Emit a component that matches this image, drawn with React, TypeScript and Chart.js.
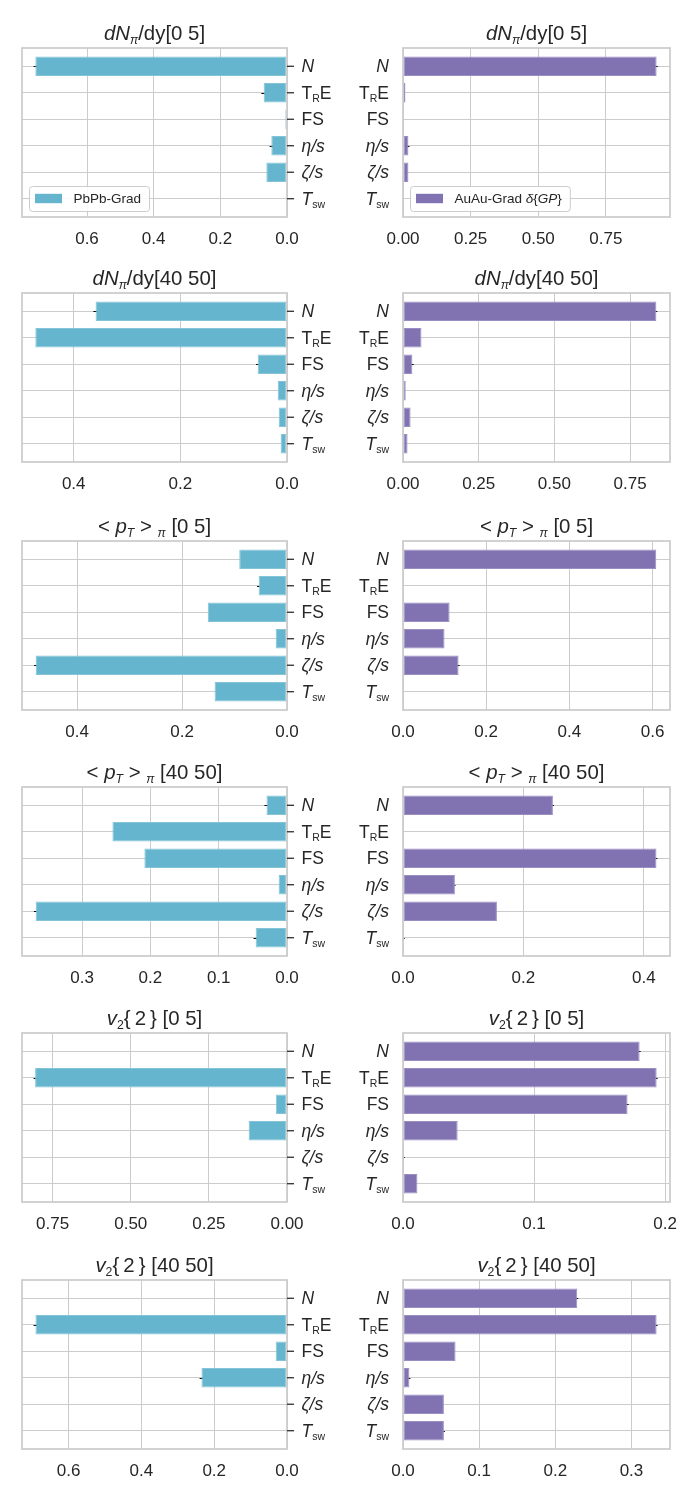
import { useEffect, useRef } from "react";
import { Chart, registerables, type Plugin } from "chart.js";

Chart.register(...registerables);

type Seg = { t: string; i?: boolean; sub?: boolean };

const FONT = '"Liberation Sans", Arial, sans-serif';
const TEXT = "#262626";
const GRID = "#cccccc";
const SUB = 0.6;

// model parameters, top to bottom
const PARAM_LABELS: Seg[][] = [
  [{ t: "N", i: true }],
  [{ t: "T" }, { t: "R", sub: true }, { t: "E" }],
  [{ t: "FS" }],
  [{ t: "η/s", i: true }],
  [{ t: "ζ/s", i: true }],
  [{ t: "T", i: true }, { t: "sw", sub: true }],
];

const TITLES: Seg[][] = [
  [{ t: "dN", i: true }, { t: "π", i: true, sub: true }, { t: "/dy[0 5]" }],
  [{ t: "dN", i: true }, { t: "π", i: true, sub: true }, { t: "/dy[40 50]" }],
  [{ t: "< " }, { t: "p", i: true }, { t: "T", i: true, sub: true }, { t: " > " }, { t: "π", i: true, sub: true }, { t: " [0 5]" }],
  [{ t: "< " }, { t: "p", i: true }, { t: "T", i: true, sub: true }, { t: " > " }, { t: "π", i: true, sub: true }, { t: " [40 50]" }],
  [{ t: "v", i: true }, { t: "2", sub: true }, { t: "{\u20092\u2009} [0 5]" }],
  [{ t: "v", i: true }, { t: "2", sub: true }, { t: "{\u20092\u2009} [40 50]" }],
];

const PBPB_LEGEND: Seg[] = [{ t: "PbPb-Grad" }];
const AUAU_LEGEND: Seg[] = [{ t: "AuAu-Grad " }, { t: "δ", i: true }, { t: "{" }, { t: "GP", i: true }, { t: "}" }];

// PbPb-Grad sensitivities (left column)
const PBPB_DNDY_0_5 = [0.755, 0.07, 0.005, 0.047, 0.062, 0];
const PBPB_DNDY_40_50 = [0.359, 0.472, 0.055, 0.0175, 0.0156, 0.012];
const PBPB_PT_0_5 = [0.091, 0.054, 0.151, 0.0216, 0.479, 0.138];
const PBPB_PT_40_50 = [0.030, 0.2556, 0.2088, 0.0122, 0.368, 0.0459];
const PBPB_V2_0_5 = [0, 0.806, 0.036, 0.1227, 0.002, 0];
const PBPB_V2_40_50 = [0, 0.691, 0.0311, 0.235, 0, 0];

const PBPB_DNDY_0_5_ERR = [0.005, 0.007, 0, 0.005, 0, 0];
const PBPB_DNDY_40_50_ERR = [0.004, 0, 0.003, 0, 0, 0];
const PBPB_PT_0_5_ERR = [0, 0.003, 0, 0, 0.003, 0];
const PBPB_PT_40_50_ERR = [0.003, 0, 0, 0, 0.0025, 0.003];
const PBPB_V2_0_5_ERR = [0, 0.005, 0, 0, 0, 0];
const PBPB_V2_40_50_ERR = [0, 0.005, 0, 0.005, 0, 0];

// AuAu-Grad δ{GP} sensitivities (right column)
const AUAU_DNDY_0_5 = [0.9375, 0.009, 0, 0.02, 0.02, 0];
const AUAU_DNDY_40_50 = [0.837, 0.061, 0.031, 0.009, 0.025, 0.015];
const AUAU_PT_0_5 = [0.609, 0, 0.112, 0.0998, 0.1336, 0];
const AUAU_PT_40_50 = [0.249, 0, 0.421, 0.0862, 0.156, 0.0017];
const AUAU_V2_0_5 = [0.1806, 0.1936, 0.1714, 0.0417, 0.0008, 0.011];
const AUAU_V2_40_50 = [0.2288, 0.333, 0.069, 0.0084, 0.0537, 0.0537];

const AUAU_DNDY_0_5_ERR = [0.004, 0, 0, 0.004, 0, 0];
const AUAU_DNDY_40_50_ERR = [0.003, 0, 0.004, 0, 0, 0];
const AUAU_PT_0_5_ERR = [0, 0, 0, 0, 0.0025, 0];
const AUAU_PT_40_50_ERR = [0.0017, 0, 0.0017, 0.0011, 0, 0.0011];
const AUAU_V2_0_5_ERR = [0.0008, 0.0008, 0.0008, 0, 0.0005, 0];
const AUAU_V2_40_50_ERR = [0.0013, 0.0013, 0, 0.0013, 0, 0.0013];

// x-axis ranges and tick labels
const PBPB_XMAX = [0.795, 0.497, 0.505, 0.388, 0.848, 0.728];
const AUAU_XMAX = [0.987, 0.882, 0.642, 0.4435, 0.2038, 0.3506];

const PBPB_TICKS = [
  ["0.0", "0.2", "0.4", "0.6"],
  ["0.0", "0.2", "0.4"],
  ["0.0", "0.2", "0.4"],
  ["0.0", "0.1", "0.2", "0.3"],
  ["0.00", "0.25", "0.50", "0.75"],
  ["0.0", "0.2", "0.4", "0.6"],
];
const AUAU_TICKS = [
  ["0.00", "0.25", "0.50", "0.75"],
  ["0.00", "0.25", "0.50", "0.75"],
  ["0.0", "0.2", "0.4", "0.6"],
  ["0.0", "0.2", "0.4"],
  ["0.0", "0.1", "0.2"],
  ["0.0", "0.1", "0.2", "0.3"],
];

const PBPB_ROWS = [PBPB_DNDY_0_5, PBPB_DNDY_40_50, PBPB_PT_0_5, PBPB_PT_40_50, PBPB_V2_0_5, PBPB_V2_40_50];
const PBPB_ERRS = [PBPB_DNDY_0_5_ERR, PBPB_DNDY_40_50_ERR, PBPB_PT_0_5_ERR, PBPB_PT_40_50_ERR, PBPB_V2_0_5_ERR, PBPB_V2_40_50_ERR];
const AUAU_ROWS = [AUAU_DNDY_0_5, AUAU_DNDY_40_50, AUAU_PT_0_5, AUAU_PT_40_50, AUAU_V2_0_5, AUAU_V2_40_50];
const AUAU_ERRS = [AUAU_DNDY_0_5_ERR, AUAU_DNDY_40_50_ERR, AUAU_PT_0_5_ERR, AUAU_PT_40_50_ERR, AUAU_V2_0_5_ERR, AUAU_V2_40_50_ERR];

const PBPB_COLOR = "#64b5cd";
const PBPB_EDGE = "#85c4d8";
const AUAU_COLOR = "#8172b2";
const AUAU_EDGE = "#9a8ec3";

// page layout of the plot boxes
const ROW_TOPS = [48, 293, 541, 787, 1033, 1280];
const PLOT_H = 169;
const TOP_PAD = 48;
const X_AXIS_H = 34;

function fontFor(s: Seg, size: number) {
  return `${s.i ? "italic " : ""}${s.sub ? size * SUB : size}px ${FONT}`;
}

function richWidth(ctx: CanvasRenderingContext2D, segs: Seg[], size: number) {
  let w = 0;
  for (const s of segs) {
    ctx.font = fontFor(s, size);
    w += ctx.measureText(s.t).width;
  }
  return w;
}

function drawRich(ctx: CanvasRenderingContext2D, segs: Seg[], x: number, base: number, size: number, align: "left" | "right" | "center") {
  const w = richWidth(ctx, segs, size);
  let cx = align === "left" ? x : align === "right" ? x - w : x - w / 2;
  ctx.textAlign = "left";
  ctx.textBaseline = "alphabetic";
  ctx.fillStyle = TEXT;
  for (const s of segs) {
    ctx.font = fontFor(s, size);
    ctx.fillText(s.t, cx, s.sub ? base + size * 0.2 : base);
    cx += ctx.measureText(s.t).width;
  }
}

interface PanelProps {
  values: number[];
  errors: number[];
  ticks: string[];
  xMax: number;
  title: Seg[];
  left: boolean;
  top: number;
  legend?: Seg[];
}

function Panel({ values, errors, ticks, xMax, title, left, top, legend }: PanelProps) {
  const canvasRef = useRef<HTMLCanvasElement>(null);
  const width = 350;
  const height = TOP_PAD + PLOT_H + X_AXIS_H;

  useEffect(() => {
    if (!canvasRef.current) return;
    const color = left ? PBPB_COLOR : AUAU_COLOR;
    const edge = left ? PBPB_EDGE : AUAU_EDGE;
    const tickVals = ticks.map(Number);

    const overlay: Plugin<"bar"> = {
      id: "overlay",
      beforeDatasetsDraw(chart) {
        const { ctx, scales } = chart;
        ctx.save();
        ctx.strokeStyle = "#000";
        ctx.lineWidth = 1;
        values.forEach((v, i) => {
          const e = errors[i];
          if (!e) return;
          const y = Math.round(scales.y.getPixelForValue(i)) + 0.5;
          ctx.beginPath();
          ctx.moveTo(scales.x.getPixelForValue(v - e), y);
          ctx.lineTo(scales.x.getPixelForValue(v + e), y);
          ctx.stroke();
        });
        ctx.restore();
      },
      afterDatasetsDraw(chart) {
        const { ctx, chartArea: a } = chart;
        ctx.save();
        ctx.strokeStyle = GRID;
        ctx.lineWidth = 1.75;
        ctx.strokeRect(a.left, a.top, a.right - a.left, a.bottom - a.top);
        ctx.restore();
      },
      afterDraw(chart) {
        const { ctx, chartArea: a, scales } = chart;
        ctx.save();
        drawRich(ctx, title, (a.left + a.right) / 2, a.top - 8.5, 20.4, "center");

        PARAM_LABELS.forEach((segs, i) => {
          const y = scales.y.getPixelForValue(i);
          if (left) {
            ctx.strokeStyle = TEXT;
            ctx.lineWidth = 1.25;
            ctx.beginPath();
            ctx.moveTo(a.right, y);
            ctx.lineTo(a.right + 7, y);
            ctx.stroke();
            drawRich(ctx, segs, a.right + 14.5, y + 6.2, 17.5, "left");
          } else {
            drawRich(ctx, segs, a.left - 14, y + 6.2, 17.5, "right");
          }
        });

        if (legend) {
          const fs = 13.5;
          const tw = richWidth(ctx, legend, fs);
          const bx = a.left + 7;
          const bh = 25;
          const by = a.bottom - 6 - bh;
          const bw = 6 + 27 + 11.5 + tw + 8;
          ctx.fillStyle = "rgba(255,255,255,0.85)";
          ctx.strokeStyle = GRID;
          ctx.lineWidth = 1;
          ctx.beginPath();
          ctx.roundRect(bx + 0.5, by + 0.5, bw, bh, 3);
          ctx.fill();
          ctx.stroke();
          ctx.fillStyle = color;
          ctx.fillRect(bx + 6, by + bh / 2 - 4.7, 27, 9.4);
          drawRich(ctx, legend, bx + 6 + 27 + 11.5, by + bh / 2 + 4.8, fs, "left");
        }
        ctx.restore();
      },
    };

    const chart = new Chart(canvasRef.current, {
      type: "bar",
      data: {
        datasets: [{
          label: left ? "PbPb-Grad" : "AuAu-Grad",
          data: values.map((v, i) => ({ x: v, y: i })),
          backgroundColor: color,
          borderColor: edge,
          borderWidth: 1,
          borderSkipped: false,
          barPercentage: 0.73,
          categoryPercentage: 1,
        }],
      },
      options: {
        indexAxis: "y",
        animation: false,
        responsive: false,
        maintainAspectRatio: false,
        layout: { padding: left ? { left: 22, top: TOP_PAD, right: 0, bottom: 0 } : { left: 0, top: TOP_PAD, right: 30, bottom: 0 } },
        plugins: { legend: { display: false }, tooltip: { enabled: false } },
        scales: {
          x: {
            type: "linear",
            reverse: left,
            min: 0,
            max: xMax,
            afterBuildTicks: (s) => { s.ticks = tickVals.map((v) => ({ value: v })); },
            afterFit: (s) => { s.height = X_AXIS_H; },
            grid: { color: GRID, lineWidth: 1, drawTicks: false },
            border: { display: false },
            ticks: {
              color: TEXT,
              font: { family: FONT, size: 17 },
              padding: 12,
              maxRotation: 0,
              autoSkip: false,
              callback: (_v, i) => ticks[i],
            },
          },
          y: {
            type: "linear",
            position: left ? "right" : "left",
            reverse: true,
            offset: false,
            min: -0.69,
            max: PARAM_LABELS.length - 1 + 0.69,
            afterBuildTicks: (s) => { s.ticks = PARAM_LABELS.map((_, i) => ({ value: i })); },
            afterFit: (s) => { s.width = left ? 63 : 53; },
            grid: { color: GRID, lineWidth: 1, drawTicks: false, offset: false },
            border: { display: false },
            ticks: { display: false },
          },
        },
      },
      plugins: [overlay],
    });

    return () => chart.destroy();
  }, [values, errors, ticks, xMax, title, left, legend]);

  return (
    <canvas
      ref={canvasRef}
      width={width}
      height={height}
      style={{ position: "absolute", left: left ? 0 : 350, top: top - TOP_PAD, width, height }}
    />
  );
}

export default function App() {
  return (
    <div style={{ position: "absolute", left: 0, top: 0, width: 700, height: 1500, background: "#fff" }}>
      {ROW_TOPS.map((top, r) => (
        <div key={r}>
          <Panel
            values={PBPB_ROWS[r]}
            errors={PBPB_ERRS[r]}
            ticks={PBPB_TICKS[r]}
            xMax={PBPB_XMAX[r]}
            title={TITLES[r]}
            left
            top={top}
            legend={r === 0 ? PBPB_LEGEND : undefined}
          />
          <Panel
            values={AUAU_ROWS[r]}
            errors={AUAU_ERRS[r]}
            ticks={AUAU_TICKS[r]}
            xMax={AUAU_XMAX[r]}
            title={TITLES[r]}
            left={false}
            top={top}
            legend={r === 0 ? AUAU_LEGEND : undefined}
          />
        </div>
      ))}
    </div>
  );
}
